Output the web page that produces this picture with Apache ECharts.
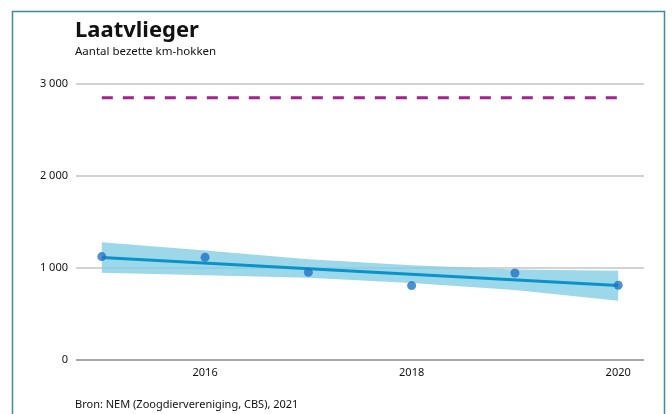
<!DOCTYPE html>
<html>
<head>
<meta charset="utf-8">
<style>
  html, body { margin: 0; padding: 0; background: #fff; }
  #chart { width: 672px; height: 414px; }
</style>
<script src="https://cdn.jsdelivr.net/npm/echarts@6/dist/echarts.min.js"></script>
</head>
<body>
<div id="chart"></div>
<script>
// data
const years = [2015, 2016, 2017, 2018, 2019, 2020]
const counts = [1124, 1116, 953, 809, 946, 812]
const trendYears = [2015, 2020]
const trend = [1115, 810]
const bandUpper = [1280, 1190, 1095, 1030, 985, 970]
const bandLower = [948, 920, 893, 836, 760, 645]
const referenceLevel = 2850
const yTicks = [0, 1000, 2000, 3000]
const xLabels = [2016, 2018, 2020]

const font = '"Noto Sans", sans-serif'

const chart = echarts.init(document.getElementById('chart'))

// confidence band as one polygon, drawn through the axes' own coord()
function renderBand(params, api) {
  if (params.dataIndex !== 0) return
  const top = years.map((y, i) => api.coord([y, bandUpper[i]]))
  const bottom = years.map((y, i) => api.coord([y, bandLower[i]])).reverse()
  return {
    type: 'polygon',
    shape: { points: top.concat(bottom) },
    style: { fill: '#84cde5', opacity: 0.8 },
  }
}

const option = {
  animation: false,
  textStyle: { fontFamily: font },
  graphic: [
    {
      type: 'rect',
      shape: { x: 12.5, y: 11.5, width: 652, height: 430 },
      style: { fill: 'none', stroke: '#3f8c9c', lineWidth: 1.5 },
    },
    {
      type: 'text',
      left: 75,
      top: 20,
      style: { text: 'Laatvlieger', font: 'bold 22px ' + font, fill: '#111' },
    },
    {
      type: 'text',
      left: 75,
      top: 46,
      style: { text: 'Aantal bezette km-hokken', font: '11.5px ' + font, fill: '#111' },
    },
    {
      type: 'text',
      left: 75,
      top: 399,
      style: { text: 'Bron: NEM (Zoogdiervereniging, CBS), 2021', font: '11px ' + font, fill: '#111' },
    },
  ],
  grid: {
    left: 76,
    right: 28,
    top: 84,
    bottom: 54,
  },
  xAxis: {
    type: 'value',
    min: 2014.75,
    max: 2020.25,
    interval: 0.25,
    axisLine: { show: false },
    axisTick: { show: false },
    splitLine: { show: false },
    axisLabel: {
      customValues: xLabels,
      color: '#111',
      fontSize: 11,
      margin: 7,
      formatter: (v) => String(v),
    },
  },
  yAxis: {
    type: 'value',
    min: 0,
    max: 3000,
    interval: 1000,
    axisLine: { show: false },
    axisTick: { show: false },
    axisLabel: {
      customValues: yTicks,
      color: '#111',
      fontSize: 11,
      margin: 8,
      formatter: (v) => (v >= 1000 ? Math.floor(v / 1000) + ' 000' : String(v)),
    },
    splitLine: {
      lineStyle: { color: '#c4c4c4', width: 1.5 },
    },
  },
  series: [
    {
      name: 'band',
      type: 'custom',
      renderItem: renderBand,
      data: years.map((y, i) => [y, bandLower[i], bandUpper[i]]),
      encode: { x: 0, y: [1, 2] },
      z: 1,
    },
    {
      name: 'zero',
      type: 'line',
      symbol: 'none',
      data: [[2014.75, 0], [2020.25, 0]],
      lineStyle: { color: '#a8a8a8', width: 2 },
      z: 2,
    },
    {
      name: 'trend',
      type: 'line',
      symbol: 'none',
      data: trendYears.map((y, i) => [y, trend[i]]),
      lineStyle: { color: '#0a93c9', width: 3 },
      z: 3,
    },
    {
      name: 'reference',
      type: 'line',
      symbol: 'none',
      data: [[2015, referenceLevel], [2020, referenceLevel]],
      lineStyle: { color: '#a3228f', width: 3, type: [11, 10] },
      z: 3,
    },
    {
      name: 'counts',
      type: 'scatter',
      symbolSize: 9,
      itemStyle: { color: '#2273c4' },
      data: years.map((y, i) => [y, counts[i]]),
      z: 4,
    },
  ],
}

chart.setOption(option)
</script>
</body>
</html>
